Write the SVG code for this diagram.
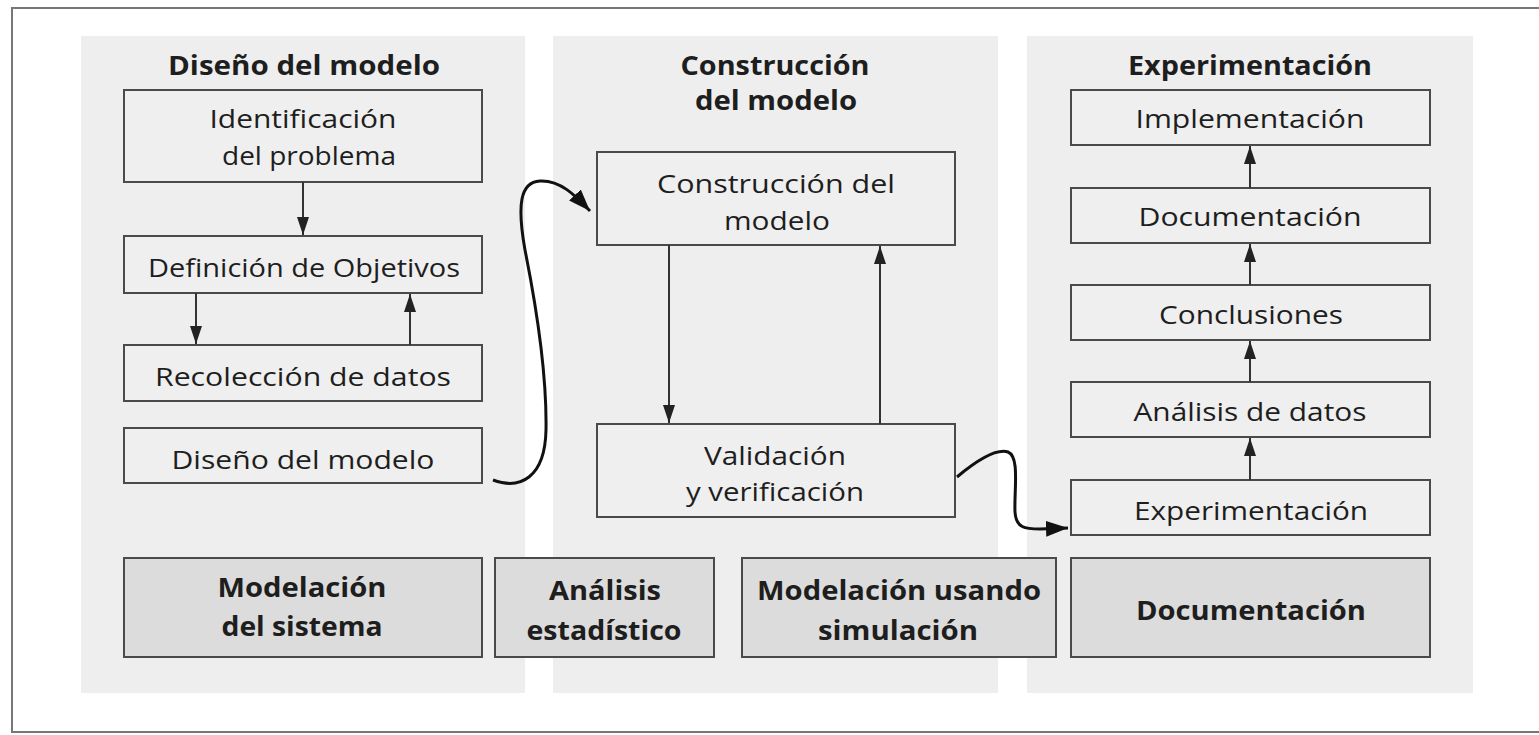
<svg xmlns="http://www.w3.org/2000/svg" width="1539" height="735" viewBox="0 0 1539 735">
<style>
.panel{fill:#eeeeee;}
.box{fill:#efefef;stroke:#4a4a4a;stroke-width:2;}
.dbox{fill:#dcdcdc;stroke:#4a4a4a;stroke-width:2;}
text{font-family:"Open Sans","Noto Sans",sans-serif;font-size:26px;fill:#1e1e1e;text-anchor:middle;}
.b{font-weight:bold;}
.c{fill:none;stroke:#333;stroke-width:2;}
.cc{fill:none;stroke:#111;stroke-width:3;}
</style>
<defs>
<marker id="ah" viewBox="0 0 18 12" refX="18" refY="6" markerWidth="18" markerHeight="12" markerUnits="userSpaceOnUse" orient="auto">
<path d="M0,0 L18,6 L0,12 z" fill="#222"/>
</marker>
<marker id="ah2" viewBox="0 0 22 16" refX="22" refY="8" markerWidth="22" markerHeight="16" markerUnits="userSpaceOnUse" orient="auto">
<path d="M0,0 L22,8 L0,16 z" fill="#111"/>
</marker>
</defs>
<rect x="0" y="0" width="1539" height="735" fill="#ffffff"/>
<rect x="12" y="8" width="1535" height="724" fill="none" stroke="#777" stroke-width="2"/>
<g id="panels">
<rect class="panel" x="81" y="36" width="444" height="657"/>
<rect class="panel" x="553" y="36" width="445" height="657"/>
<rect class="panel" x="1027" y="36" width="446" height="657"/>
<text class="b" x="304" y="75" textLength="272" lengthAdjust="spacingAndGlyphs">Diseño del modelo</text>
<text class="b" x="775" y="75" textLength="189" lengthAdjust="spacingAndGlyphs">Construcción</text>
<text class="b" x="776" y="110" textLength="162" lengthAdjust="spacingAndGlyphs">del modelo</text>
<text class="b" x="1250" y="75" textLength="244" lengthAdjust="spacingAndGlyphs">Experimentación</text>
</g>
<g id="n-identificacion">
<rect class="box" x="124" y="90" width="358" height="92"/>
<text x="303" y="128" textLength="187" lengthAdjust="spacingAndGlyphs">Identificación</text>
<text x="309" y="165" textLength="174" lengthAdjust="spacingAndGlyphs">del problema</text>
</g>
<g id="n-definicion">
<rect class="box" x="124" y="236" width="358" height="57"/>
<text x="304" y="277" textLength="312" lengthAdjust="spacingAndGlyphs">Definición de Objetivos</text>
</g>
<g id="n-recoleccion">
<rect class="box" x="124" y="345" width="358" height="56"/>
<text x="303" y="386" textLength="296" lengthAdjust="spacingAndGlyphs">Recolección de datos</text>
</g>
<g id="n-diseno">
<rect class="box" x="124" y="428" width="358" height="55"/>
<text x="303" y="469" textLength="263" lengthAdjust="spacingAndGlyphs">Diseño del modelo</text>
</g>
<g id="n-construccion">
<rect class="box" x="597" y="152" width="358" height="93"/>
<text x="776" y="193" textLength="238" lengthAdjust="spacingAndGlyphs">Construcción del</text>
<text x="777" y="230" textLength="106" lengthAdjust="spacingAndGlyphs">modelo</text>
</g>
<g id="n-validacion">
<rect class="box" x="597" y="424" width="358" height="93"/>
<text x="775" y="465" textLength="142" lengthAdjust="spacingAndGlyphs">Validación</text>
<text x="775" y="501" textLength="178" lengthAdjust="spacingAndGlyphs">y verificación</text>
</g>
<g id="n-implementacion">
<rect class="box" x="1071" y="90" width="359" height="55"/>
<text x="1250" y="128" textLength="229" lengthAdjust="spacingAndGlyphs">Implementación</text>
</g>
<g id="n-documentacion">
<rect class="box" x="1071" y="188" width="359" height="55"/>
<text x="1250" y="226" textLength="223" lengthAdjust="spacingAndGlyphs">Documentación</text>
</g>
<g id="n-conclusiones">
<rect class="box" x="1071" y="285" width="359" height="55"/>
<text x="1251" y="324" textLength="184" lengthAdjust="spacingAndGlyphs">Conclusiones</text>
</g>
<g id="n-analisis">
<rect class="box" x="1071" y="382" width="359" height="55"/>
<text x="1250" y="421" textLength="233" lengthAdjust="spacingAndGlyphs">Análisis de datos</text>
</g>
<g id="n-experimentacion">
<rect class="box" x="1071" y="480" width="359" height="55"/>
<text x="1251" y="520" textLength="234" lengthAdjust="spacingAndGlyphs">Experimentación</text>
</g>
<g id="n-modelacion-sistema">
<rect class="dbox" x="124" y="558" width="358" height="99"/>
<text class="b" x="302" y="597" textLength="169" lengthAdjust="spacingAndGlyphs">Modelación</text>
<text class="b" x="302" y="636" textLength="161" lengthAdjust="spacingAndGlyphs">del sistema</text>
</g>
<g id="n-analisis-estadistico">
<rect class="dbox" x="495" y="558" width="219" height="99"/>
<text class="b" x="605" y="600" textLength="112" lengthAdjust="spacingAndGlyphs">Análisis</text>
<text class="b" x="604" y="640" textLength="155" lengthAdjust="spacingAndGlyphs">estadístico</text>
</g>
<g id="n-modelacion-simulacion">
<rect class="dbox" x="742" y="558" width="314" height="99"/>
<text class="b" x="899" y="600" textLength="284" lengthAdjust="spacingAndGlyphs">Modelación usando</text>
<text class="b" x="898" y="640" textLength="160" lengthAdjust="spacingAndGlyphs">simulación</text>
</g>
<g id="n-documentacion-b">
<rect class="dbox" x="1071" y="558" width="359" height="99"/>
<text class="b" x="1251" y="620" textLength="230" lengthAdjust="spacingAndGlyphs">Documentación</text>
</g>
<g id="connectors">
<line class="c" x1="303" y1="182" x2="303" y2="235" marker-end="url(#ah)"/>
<line class="c" x1="196" y1="293" x2="196" y2="344" marker-end="url(#ah)"/>
<line class="c" x1="410" y1="345" x2="410" y2="294" marker-end="url(#ah)"/>
<line class="c" x1="669" y1="245" x2="669" y2="423" marker-end="url(#ah)"/>
<line class="c" x1="880" y1="424" x2="880" y2="246" marker-end="url(#ah)"/>
<line class="c" x1="1250" y1="480" x2="1250" y2="438" marker-end="url(#ah)"/>
<line class="c" x1="1250" y1="382" x2="1250" y2="341" marker-end="url(#ah)"/>
<line class="c" x1="1250" y1="285" x2="1250" y2="244" marker-end="url(#ah)"/>
<line class="c" x1="1250" y1="188" x2="1250" y2="146" marker-end="url(#ah)"/>
<path class="cc" d="M493,480 C520,490 545,478 546,430 C547,370 535,300 525,250 C517,205 520,182 540,181 C560,180 575,195 590,211" marker-end="url(#ah2)"/>
<path class="cc" d="M957,477 C975,462 995,448 1008,452 C1020,457 1014,490 1015,512 C1016,528 1025,529 1040,529 L1068,528" marker-end="url(#ah2)"/>
</g>
</svg>
